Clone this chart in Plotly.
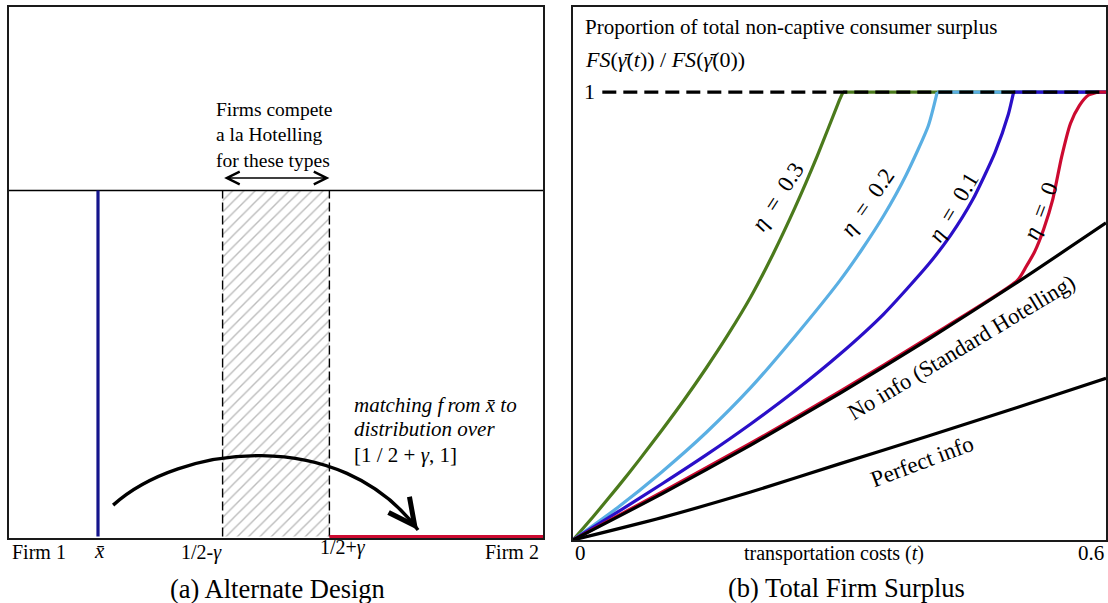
import plotly.graph_objects as go

W, H = 1108, 603
FONT = "Liberation Serif"

# ---------------- Panel (a): Alternate Design ----------------
x_bar = 1 / 6          # location of the pooled type x-bar
gamma = 0.1            # half-width of the contested band
density = 1.0          # uniform density height
band_lo = 0.5 - gamma
band_hi = 0.5 + gamma

# ---------------- Panel (b): Total Firm Surplus ----------------
t_eta03 = [0, .025, .05, .075, .10, .125, .15, .175, .20, .225, .25, .275, .30, .304]
fs_eta03 = [0, .0575, .1175, .18, .245, .3125, .384, .46, .5425, .6375, .7425, .8575, .9825, 1.0]

t_eta02 = [0, .05, .10, .15, .20, .25, .30, .325, .35, .375, .40, .41]
fs_eta02 = [0, .072, .152, .24, .34, .455, .578, .648, .725, .815, .925, 1.0]

t_eta01 = [0, .05, .10, .15, .20, .25, .30, .35, .40, .425, .45, .475, .49, .496]
fs_eta01 = [0, .062, .125, .19, .259, .333, .414, .505, .615, .68, .76, .865, .95, 1.0]

t_eta0 = [0, .1, .2, .3, .4, .5, .51, .52, .53, .54, .55, .56, .57, .58, .59]
fs_eta0 = [0, .107, .216, .331, .452, .579, .61, .645, .695, .76, .855, .93, .97, .993, 1.0]

t_noinfo = [0, .1, .2, .3, .4, .5, .6]
fs_noinfo = [0, .103, .212, .327, .448, .575, .708]

t_perfect = [0, .1, .2, .3, .4, .5, .6]
fs_perfect = [0, .05, .107, .17, .232, .296, .361]

T_MAX = 0.6
FS_TOP = 1.0

C_GREEN = "#4b7a1c"
C_LBLUE = "#5aafe3"
C_BLUE = "#2a0fc8"
C_RED = "#cc0a30"
C_NAVY = "#14148c"


def px(x):
    return x / W


def py(y):
    return 1 - y / H


fig = go.Figure()

# ---- panel (a) traces ----
fig.add_trace(go.Bar(
    x=[0.5], y=[density], width=[band_hi - band_lo], xaxis="x", yaxis="y",
    marker=dict(color="white", line=dict(width=0),
                pattern=dict(shape="/", fgcolor="#777777", bgcolor="white", size=8, solidity=0.17)),
    hoverinfo="skip", showlegend=False))
for xb in (band_lo, band_hi):
    fig.add_trace(go.Scatter(x=[xb, xb], y=[0, density], mode="lines", xaxis="x", yaxis="y",
                             line=dict(color="black", width=1.4, dash="9px,4px"),
                             hoverinfo="skip", showlegend=False))
fig.add_trace(go.Scatter(x=[0, 1], y=[density, density], mode="lines", xaxis="x", yaxis="y",
                         line=dict(color="black", width=1.5), hoverinfo="skip", showlegend=False))
fig.add_trace(go.Scatter(x=[x_bar, x_bar], y=[0, density], mode="lines", xaxis="x", yaxis="y",
                         line=dict(color=C_NAVY, width=3.2), hoverinfo="skip", showlegend=False))
fig.add_trace(go.Scatter(x=[band_hi, 1], y=[0, 0], mode="lines", xaxis="x", yaxis="y",
                         line=dict(color=C_RED, width=3.2), hoverinfo="skip", showlegend=False))

# ---- panel (b) traces ----
for tx, ty, col in [(t_eta03, fs_eta03, C_GREEN), (t_eta02, fs_eta02, C_LBLUE),
                    (t_eta01, fs_eta01, C_BLUE), (t_eta0, fs_eta0, C_RED)]:
    # rising part (smoothed) and the plateau at 1 up to t = 0.6
    fig.add_trace(go.Scatter(x=tx, y=ty, mode="lines", xaxis="x2", yaxis="y2",
                             line=dict(color=col, width=3.2, shape="spline", smoothing=0.6),
                             hoverinfo="skip", showlegend=False))
    fig.add_trace(go.Scatter(x=[tx[-1], T_MAX], y=[ty[-1], ty[-1]], mode="lines", xaxis="x2", yaxis="y2",
                             line=dict(color=col, width=3.2), hoverinfo="skip", showlegend=False))
for tx, ty in [(t_noinfo, fs_noinfo), (t_perfect, fs_perfect)]:
    fig.add_trace(go.Scatter(x=tx, y=ty, mode="lines", xaxis="x2", yaxis="y2",
                             line=dict(color="black", width=3.2, shape="spline", smoothing=0.6),
                             hoverinfo="skip", showlegend=False))
fig.add_trace(go.Scatter(x=[0.033, T_MAX], y=[FS_TOP, FS_TOP], mode="lines", xaxis="x2", yaxis="y2",
                         line=dict(color="black", width=3.2, dash="14px,7px"),
                         hoverinfo="skip", showlegend=False))

ax_common = dict(showline=True, mirror=True, linecolor="#1a1a1a", linewidth=2,
                 showgrid=False, zeroline=False, ticks="", showticklabels=False, fixedrange=True)

fig.update_layout(
    width=W, height=H, margin=dict(l=0, r=0, t=0, b=0),
    paper_bgcolor="white", plot_bgcolor="white", showlegend=False,
    xaxis=dict(domain=[px(9), px(543)], range=[0, 1], **ax_common),
    yaxis=dict(domain=[py(538), py(7)], range=[-0.004, 1.53], **ax_common),
    xaxis2=dict(domain=[px(573), px(1106)], range=[0, T_MAX], anchor="y2", **ax_common),
    yaxis2=dict(domain=[py(540), py(7)], range=[0, 1.19], anchor="x2", **ax_common),
)

# curved matching arrow (panel a)
P0, P1, P2, P3 = (0.195, 0.091), (0.320, 0.265), (0.620, 0.322), (0.766, 0.019)
fig.add_shape(type="path", xref="x", yref="y",
              path=f"M {P0[0]},{P0[1]} C {P1[0]},{P1[1]} {P2[0]},{P2[1]} {P3[0]},{P3[1]}",
              line=dict(color="black", width=3.4))

ann = []
# arrowhead of matching arrow
ann.append(dict(x=P3[0], y=P3[1], xref="x", yref="y", ax=-9, ay=-12, text="",
                showarrow=True, arrowhead=5, arrowsize=1.6, arrowwidth=3.2, arrowcolor="black", standoff=0))
# double arrow above band
ann.append(dict(x=band_hi, y=1.036, xref="x", yref="y", ax=band_lo, ay=1.036, axref="x", ayref="y",
                text="", showarrow=True, arrowhead=5, startarrowhead=5, arrowside="end+start",
                arrowsize=1.8, startarrowsize=1.8, arrowwidth=1.4, arrowcolor="black", standoff=0,
                startstandoff=0))


def txt(x, y, s, size, xa="center", ya="middle", angle=0, italic=False, color="black", align="center"):
    ann.append(dict(x=px(x), y=py(y), xref="paper", yref="paper", text=s, showarrow=False,
                    xanchor=xa, yanchor=ya, textangle=angle, align=align,
                    font=dict(family=FONT, size=size, color=color, style="italic" if italic else "normal")))


# panel (a) text
txt(214, 135, "Firms compete<br>a la Hotelling<br>for these types", 19.5, xa="left", align="left")
txt(352, 405, "matching <i>f</i>\u2009rom x\u0304 to", 21, xa="left", italic=True)
txt(352, 429, "distribution over", 21, xa="left", italic=True)
txt(352, 455, "[1 / 2 + <i>γ</i>, 1]", 21, xa="left")
txt(39, 552, "Firm 1", 20)
txt(99, 551, "<i>x\u0304</i>", 21)
txt(224, 552, "1/2-<i>γ</i>", 20, xa="right")
txt(318, 547, "1/2+<i>γ</i>", 20, xa="left")
txt(541, 552, "Firm 2", 20, xa="right")
txt(277, 589, "(a) Alternate Design", 26.5)

# panel (b) text
txt(583, 27, "Proportion of total non-captive consumer surplus", 21, xa="left")
txt(583, 60, "<i>FS</i>(<i>γ\u0304</i>(<i>t</i>)) / <i>FS</i>(<i>γ\u0304</i>(0))", 22, xa="left")
txt(589, 92, "1", 22)
txt(580, 553, "0", 21)
txt(1091, 553, "0.6", 21)
txt(834, 553, "transportation costs (<i>t</i>)", 20)
txt(846, 588, "(b) Total Firm Surplus", 26.5)
txt(778, 197, "<i>η</i>\u2002=\u20020.3", 23, angle=-57)
txt(867, 202, "<i>η</i>\u2002=\u20020.2", 23, angle=-55)
txt(953, 207, "<i>η</i>\u2002=\u20020.1", 23, angle=-59)
txt(1040, 211, "<i>η</i>\u2002=\u20020", 23, angle=-69)
txt(961, 347, "No info (Standard Hotelling)", 22.5, angle=-31)
txt(922, 461, "Perfect info", 23, angle=-20.5)

fig.update_layout(annotations=ann)
fig.write_html("out.html", post_script="document.body.style.margin='0px';",
               config={"displayModeBar": False})
